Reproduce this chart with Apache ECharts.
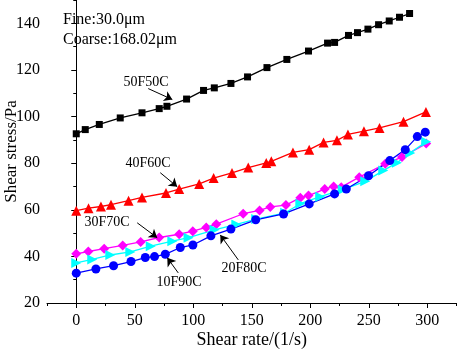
<!DOCTYPE html>
<html>
<head>
<meta charset="utf-8">
<script src="https://cdn.jsdelivr.net/npm/echarts@6/dist/echarts.min.js"></script>
<style>
  html, body { margin: 0; padding: 0; background: #fff; }
  #chart { width: 457px; height: 352px; }
</style>
</head>
<body>
<div id="chart"></div>
<script>
// shear rate (1/s) and shear stress (Pa)
const x50F50C = [0, 7.7, 19.7, 37.6, 56.2, 70.9, 77.5, 94.3, 108.8, 118, 132.2, 146.4, 163, 180, 198.5, 214.8, 220.8, 232.7, 240.4, 249.3, 258.4, 267.5, 276.3, 284.9];
const y50F50C = [92.6, 94.4, 96.6, 99.4, 101.6, 103.4, 104.4, 107.5, 111.2, 112.3, 114.2, 117.0, 121.0, 124.5, 128.1, 131.5, 131.8, 134.8, 136.0, 137.5, 139.4, 141.0, 142.6, 144.2];

const x40F60C = [0, 10.5, 21.1, 29.7, 44.7, 56.2, 76.7, 88, 105.1, 117.4, 133.1, 147, 162.4, 166.7, 185.2, 199.1, 211.4, 222.8, 232.2, 245.9, 259.2, 279.7, 298.9];
const y40F60C = [59.6, 60.7, 61.4, 62.2, 63.9, 65.3, 67.2, 68.9, 71.1, 73.6, 75.8, 78.1, 80.1, 80.8, 84.6, 85.8, 88.9, 89.8, 92.3, 93.7, 95.1, 97.8, 102.0];

const x30F70C = [0, 10.3, 23.9, 39.7, 55.1, 70.9, 88, 99.6, 111.1, 119.7, 142.7, 156.7, 165.8, 179.2, 191.5, 198.5, 212.4, 220, 226.5, 241.9, 264.1, 278.4, 299.1];
const y30F70C = [41.1, 42.1, 43.3, 44.7, 46.2, 48.1, 49.5, 50.8, 52.4, 53.8, 58.3, 59.7, 61.2, 62.0, 65.2, 66.1, 68.9, 70.0, 69.7, 74.0, 79.7, 82.6, 88.4];

const x20F80C = [0, 13.7, 29.1, 46.2, 63.7, 82.1, 96, 118.2, 136.8, 153.8, 178.6, 191.5, 208.5, 227.8, 247, 262.4, 274.1, 285.5, 299.1];
const y20F80C = [37.2, 38.7, 40.6, 41.9, 44.4, 46.5, 48.0, 51.4, 53.7, 56.0, 58.7, 62.6, 65.6, 68.6, 72.2, 76.8, 80.2, 84.4, 89.2];

const x10F90C = [0, 16.8, 31.9, 46.8, 59, 66.9, 76.1, 88.9, 99.7, 115.1, 132.2, 153.4, 177.2, 199.1, 220.8, 230.8, 249.8, 268, 281.2, 291.5, 298.3];
const y10F90C = [32.8, 34.6, 36.0, 37.8, 39.5, 39.9, 40.9, 43.8, 44.9, 48.8, 51.7, 55.7, 58.2, 62.5, 66.8, 68.9, 74.6, 81.1, 85.8, 91.4, 93.3];

const xMajor = [0, 50, 100, 150, 200, 250, 300];
const xMinor = [-25, 25, 75, 125, 175, 225, 275, 325];
const yMajor = [20, 40, 60, 80, 100, 120, 140];
const yMinor = [30, 50, 70, 90, 110, 130, 150];

// series label text and arrow [from, to] in data units
const arrowNotes = [
  { name: "50F50C", from: [61.5, 112.0], to: [82.1, 107.3] },
  { name: "40F60C", from: [71.8, 75.9], to: [86.3, 69.9] },
  { name: "30F70C", from: [52.1, 54.4], to: [69.2, 48.0] },
  { name: "10F90C", from: [87.2, 32.9], to: [77.8, 39.4] },
  { name: "20F80C", from: [138.5, 38.5], to: [123.1, 49.2] },
];

const FONT = "'Liberation Serif', 'Times New Roman', serif";

const pairs = (xs, ys) => xs.map((x, i) => [x, ys[i]]);

const chart = echarts.init(document.getElementById("chart"));

function makeSeries(name, xs, ys, color, symbol, size, extra) {
  return Object.assign({
    name: name,
    type: "line",
    data: pairs(xs, ys),
    symbol: symbol,
    symbolSize: size,
    showSymbol: true,
    animation: false,
    lineStyle: { color: color, width: 1.3 },
    itemStyle: { color: color },
    z: 3,
  }, extra || {});
}

const baseX = {
  type: "value",
  min: -25,
  max: 325,
  gridIndex: 0,
  position: "bottom",
  splitLine: { show: false },
};
const baseY = {
  type: "value",
  min: 20,
  max: 150,
  gridIndex: 0,
  position: "left",
  splitLine: { show: false },
};

// series name labels (pixel centre)
const labelPos = {
  "50F50C": [146, 82],
  "40F60C": [148, 163],
  "30F70C": [107, 222],
  "10F90C": [179, 282],
  "20F80C": [244, 268],
};

const notes = [
  { type: "text", left: 63, top: 12, style: { text: "Fine:30.0μm", font: "16px " + FONT, fill: "#000" } },
  { type: "text", left: 63, top: 32, style: { text: "Coarse:168.02μm", font: "16px " + FONT, fill: "#000" } },
].concat(arrowNotes.map((a) => ({
  type: "text",
  x: labelPos[a.name][0],
  y: labelPos[a.name][1],
  style: {
    text: a.name,
    font: "14px " + FONT,
    fill: "#000",
    align: "center",
    verticalAlign: "middle",
  },
})));

const option = {
  backgroundColor: "#fff",
  animation: false,
  grid: { left: 47, right: 0.5, top: 0, bottom: 49, containLabel: false, outerBoundsMode: "none" },
  xAxis: [
    Object.assign({}, baseX, {
      name: "Shear rate/(1/s)",
      nameLocation: "middle",
      nameGap: 28,
      nameMoveOverlap: false,
      nameTextStyle: { fontFamily: FONT, fontSize: 18, color: "#000", verticalAlign: "top" },
      axisLine: { show: true, lineStyle: { color: "#000", width: 1 } },
      axisTick: { show: true, length: 5, inside: false, customValues: xMajor, lineStyle: { color: "#000" } },
      axisLabel: { customValues: xMajor, fontFamily: FONT, fontSize: 16, color: "#000", margin: 10 },
    }),
    Object.assign({}, baseX, {
      axisLine: { show: false },
      axisTick: { show: true, length: 3, inside: false, customValues: xMinor, lineStyle: { color: "#000" } },
      axisLabel: { show: false },
    }),
  ],
  yAxis: [
    Object.assign({}, baseY, {
      name: "Shear stress/Pa",
      nameLocation: "middle",
      nameGap: 27,
      nameMoveOverlap: false,
      nameTextStyle: { fontFamily: FONT, fontSize: 17, color: "#000" },
      axisLine: { show: true, lineStyle: { color: "#000", width: 1 } },
      axisTick: { show: true, length: 5, inside: false, customValues: yMajor, lineStyle: { color: "#000" } },
      axisLabel: { customValues: yMajor, fontFamily: FONT, fontSize: 16, color: "#000", margin: 7 },
    }),
    Object.assign({}, baseY, {
      axisLine: { show: false },
      axisTick: { show: true, length: 3, inside: false, customValues: yMinor, lineStyle: { color: "#000" } },
      axisLabel: { show: false },
    }),
  ],
  series: [
    makeSeries("50F50C", x50F50C, y50F50C, "#000000", "rect", 7),
    makeSeries("40F60C", x40F60C, y40F60C, "#ff0000", "triangle", 10),
    makeSeries("30F70C", x30F70C, y30F70C, "#ff00ff", "diamond", 10),
    makeSeries("20F80C", x20F80C, y20F80C, "#00ffff", "triangle", 10, { symbolRotate: -90 }),
    makeSeries("10F90C", x10F90C, y10F90C, "#0000ff", "circle", 9),
    {
      name: "arrows",
      type: "line",
      data: [],
      silent: true,
      z: 5,
      markLine: {
        silent: true,
        symbol: ["none", "arrow"],
        symbolSize: 8,
        label: { show: false },
        lineStyle: { color: "#000", width: 1, type: "solid" },
        itemStyle: { color: "#000" },
        data: arrowNotes.map((a) => [{ coord: a.from }, { coord: a.to }]),
        animation: false,
      },
    },
  ],
  graphic: notes,
};

chart.setOption(option);
</script>
</body>
</html>
